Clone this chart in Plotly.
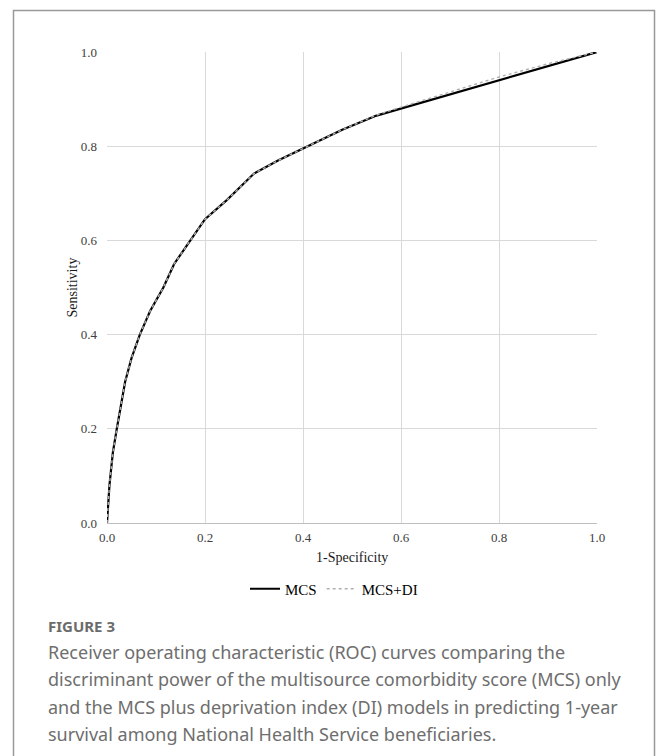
import plotly.graph_objects as go

# ROC data
mcs_fpr = [0, 0.002, 0.005, 0.008, 0.012, 0.02, 0.028, 0.037, 0.05, 0.067, 0.088, 0.115,
           0.137, 0.171, 0.2, 0.245, 0.3, 0.35, 0.41, 0.48, 0.55, 0.6, 0.7, 0.8, 0.9, 1.0]
mcs_tpr = [0, 0.04, 0.08, 0.11, 0.15, 0.2, 0.25, 0.3, 0.35, 0.4, 0.45, 0.5,
           0.55, 0.6, 0.645, 0.686, 0.742, 0.77, 0.8, 0.835, 0.865, 0.88, 0.91, 0.94, 0.97, 1.0]
mcsdi_fpr = [0, 0.002, 0.005, 0.008, 0.012, 0.02, 0.028, 0.037, 0.05, 0.067, 0.088, 0.115,
             0.137, 0.171, 0.2, 0.245, 0.3, 0.35, 0.41, 0.48, 0.55, 0.6, 0.7, 0.8, 0.9, 1.0]
mcsdi_tpr = [0, 0.04, 0.08, 0.11, 0.15, 0.2, 0.25, 0.3, 0.35, 0.4, 0.45, 0.5,
             0.55, 0.6, 0.645, 0.686, 0.742, 0.77, 0.8, 0.835, 0.866, 0.883, 0.915, 0.947, 0.975, 1.0]
tick_vals = [0, 0.2, 0.4, 0.6, 0.8, 1.0]
tick_text = ["0.0", "0.2", "0.4", "0.6", "0.8", "1.0"]
caption_lines = [
    "Receiver operating characteristic (ROC) curves comparing the",
    "discriminant power of the multisource comorbidity score (MCS) only",
    "and the MCS plus deprivation index (DI) models in predicting 1-year",
    "survival among National Health Service beneficiaries.",
]

W, H = 657, 756
L, R, T, B = 107, 597, 52, 523  # plot area in pixels


def px(x):
    return (x - L) / (R - L)


def py(y):
    return (B - y) / (B - T)


serif = "Liberation Serif, Times New Roman, serif"
sans = "Noto Sans, Open Sans, sans-serif"

fig = go.Figure()
fig.add_trace(go.Scatter(x=mcs_fpr, y=mcs_tpr, mode="lines", name="MCS",
                         line=dict(color="#000000", width=2.2)))
fig.add_trace(go.Scatter(x=mcsdi_fpr, y=mcsdi_tpr, mode="lines", name="MCS+DI",
                         line=dict(color="#b0b0b0", width=1.4, dash="dot")))

axis_common = dict(range=[0, 1], tickvals=tick_vals, ticktext=tick_text, showgrid=True,
                   gridcolor="#d9d9d9", gridwidth=1, zeroline=False, ticks="",
                   tickfont=dict(family=serif, size=13, color="#404040"), fixedrange=True)
fig.update_xaxes(**axis_common, showline=True, linecolor="#bfbfbf", linewidth=1,
                 ticklabelstandoff=2)
fig.update_yaxes(**axis_common, showline=False, ticklabelstandoff=9)

shapes = [dict(type="rect", xref="paper", yref="paper",
               x0=px(13.5), x1=px(654.5), y0=py(770), y1=py(10.5),
               line=dict(color="#999999", width=1.5), fillcolor="rgba(0,0,0,0)", layer="below")]

annotations = [
    dict(text="1-Specificity", xref="paper", yref="paper", x=0.5, y=py(557),
         xanchor="center", yanchor="middle", showarrow=False,
         font=dict(family=serif, size=14, color="#1a1a1a")),
    dict(text="Sensitivity", xref="paper", yref="paper", x=px(72), y=0.5, textangle=-90,
         xanchor="center", yanchor="middle", showarrow=False,
         font=dict(family=serif, size=14, color="#1a1a1a")),
    dict(text="<b>FIGURE 3</b>", xref="paper", yref="paper", x=px(46), y=py(626),
         xanchor="left", yanchor="middle", showarrow=False,
         font=dict(family=sans, size=15, color="#6b6b6b")),
]
for i, line in enumerate(caption_lines):
    annotations.append(dict(text=line, xref="paper", yref="paper", x=px(46), y=py(652 + 27.3 * i),
                            xanchor="left", yanchor="middle", showarrow=False,
                            font=dict(family=sans, size=18, color="#6e6e6e")))

fig.update_layout(
    width=W, height=H,
    margin=dict(l=L, r=W - R, t=T, b=H - B, pad=0),
    paper_bgcolor="white", plot_bgcolor="white",
    showlegend=True,
    legend=dict(orientation="h", x=px(334), xanchor="center", y=py(589), yanchor="middle",
                font=dict(family=serif, size=15, color="#000000"), bgcolor="rgba(0,0,0,0)",
                itemwidth=30, tracegroupgap=0),
    shapes=shapes, annotations=annotations,
)

fig.write_html("out.html", config={"displayModeBar": False},
               post_script="document.body.style.margin='0';document.body.style.overflow='hidden';")
